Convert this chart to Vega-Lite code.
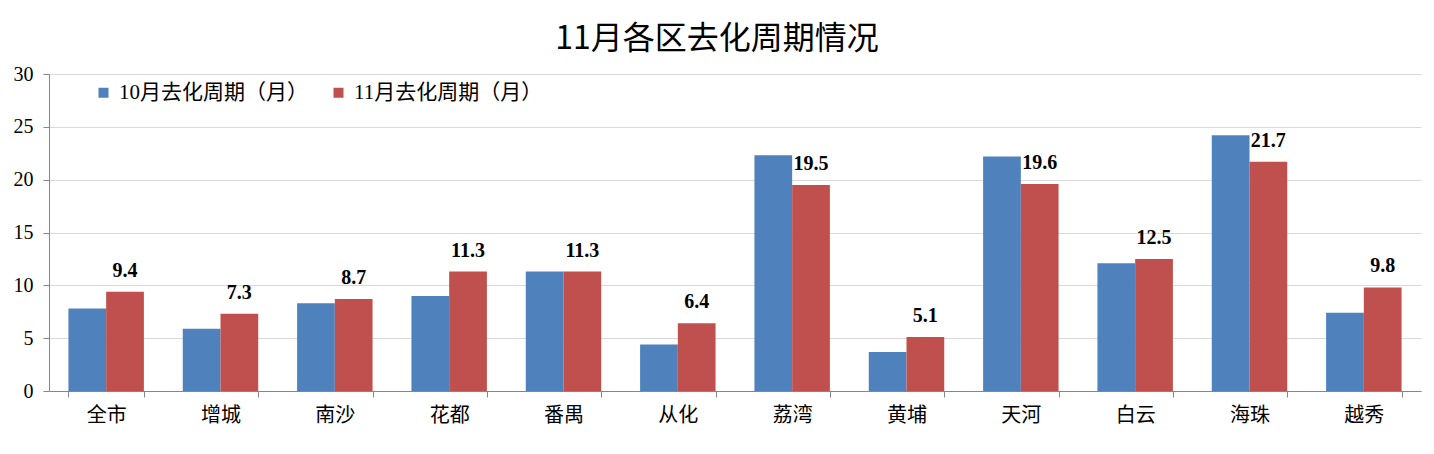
{
  "$schema": "https://vega.github.io/schema/vega-lite/v6.json",
  "width": 1372,
  "height": 317,
  "autosize": {"type": "none"},
  "padding": {"left": 49, "top": 74, "right": 13, "bottom": 63},
  "background": "white",
  "title": {"text": "11月各区去化周期情况", "fontSize": 32, "font": "Noto Sans CJK SC", "fontWeight": "normal", "color": "#000000", "anchor": "middle", "frame": "group", "dx": -18, "offset": 8},
  "data": {"values": [
    {"district": "全市", "series": "10月去化周期（月）", "value": 7.8},
    {"district": "全市", "series": "11月去化周期（月）", "value": 9.4},
    {"district": "增城", "series": "10月去化周期（月）", "value": 5.9},
    {"district": "增城", "series": "11月去化周期（月）", "value": 7.3},
    {"district": "南沙", "series": "10月去化周期（月）", "value": 8.3},
    {"district": "南沙", "series": "11月去化周期（月）", "value": 8.7},
    {"district": "花都", "series": "10月去化周期（月）", "value": 9.0},
    {"district": "花都", "series": "11月去化周期（月）", "value": 11.3},
    {"district": "番禺", "series": "10月去化周期（月）", "value": 11.3},
    {"district": "番禺", "series": "11月去化周期（月）", "value": 11.3},
    {"district": "从化", "series": "10月去化周期（月）", "value": 4.4},
    {"district": "从化", "series": "11月去化周期（月）", "value": 6.4},
    {"district": "荔湾", "series": "10月去化周期（月）", "value": 22.3},
    {"district": "荔湾", "series": "11月去化周期（月）", "value": 19.5},
    {"district": "黄埔", "series": "10月去化周期（月）", "value": 3.7},
    {"district": "黄埔", "series": "11月去化周期（月）", "value": 5.1},
    {"district": "天河", "series": "10月去化周期（月）", "value": 22.2},
    {"district": "天河", "series": "11月去化周期（月）", "value": 19.6},
    {"district": "白云", "series": "10月去化周期（月）", "value": 12.1},
    {"district": "白云", "series": "11月去化周期（月）", "value": 12.5},
    {"district": "海珠", "series": "10月去化周期（月）", "value": 24.2},
    {"district": "海珠", "series": "11月去化周期（月）", "value": 21.7},
    {"district": "越秀", "series": "10月去化周期（月）", "value": 7.4},
    {"district": "越秀", "series": "11月去化周期（月）", "value": 9.8}
  ]},
  "layer": [
    {
      "mark": {"type": "bar"},
      "encoding": {
        "x": {"field": "district", "type": "nominal", "sort": null,
          "scale": {"paddingInner": 0.34, "paddingOuter": 0.17},
          "axis": {"title": null, "labelAngle": 0, "labelFont": "Liberation Serif, Noto Sans CJK SC", "labelFontSize": 20, "labelColor": "#000000", "tickBand": "extent", "tickSize": 6, "tickColor": "#868686", "domainColor": "#868686", "labelPadding": 8, "grid": false}},
        "xOffset": {"field": "series", "type": "nominal", "sort": null, "scale": {"domain": ["10月去化周期（月）", "11月去化周期（月）"]}},
        "y": {"field": "value", "type": "quantitative", "scale": {"domain": [0, 30]},
          "axis": {"title": null, "values": [0, 5, 10, 15, 20, 25, 30], "gridColor": "#D9D9D9", "domainColor": "#868686", "tickColor": "#868686", "tickSize": 6, "labelPadding": 10, "labelFont": "Liberation Serif", "labelFontSize": 20, "labelColor": "#000000"}},
        "color": {"field": "series", "type": "nominal", "sort": null,
          "scale": {"domain": ["10月去化周期（月）", "11月去化周期（月）"], "range": ["#4F81BD", "#C0504D"]},
          "legend": {"orient": "none", "legendX": 44, "legendY": 8, "direction": "horizontal", "title": null, "symbolType": "square", "symbolSize": 100, "symbolStrokeWidth": 0, "labelFont": "Liberation Serif, Noto Sans CJK SC", "labelFontSize": 21, "labelColor": "#000000", "columnPadding": 20, "labelOffset": 5, "labelLimit": 400}}
      }
    },
    {
      "transform": [{"filter": "datum.series === '11月去化周期（月）'"}],
      "mark": {"type": "text", "dy": -21, "fontSize": 20, "fontWeight": "bold", "font": "Liberation Serif", "color": "#000000", "baseline": "middle"},
      "encoding": {
        "x": {"field": "district", "type": "nominal", "sort": null},
        "xOffset": {"field": "series", "type": "nominal", "sort": null},
        "y": {"field": "value", "type": "quantitative"},
        "text": {"field": "value", "type": "quantitative", "format": ".1f"}
      }
    }
  ],
  "config": {"view": {"stroke": null}}
}
